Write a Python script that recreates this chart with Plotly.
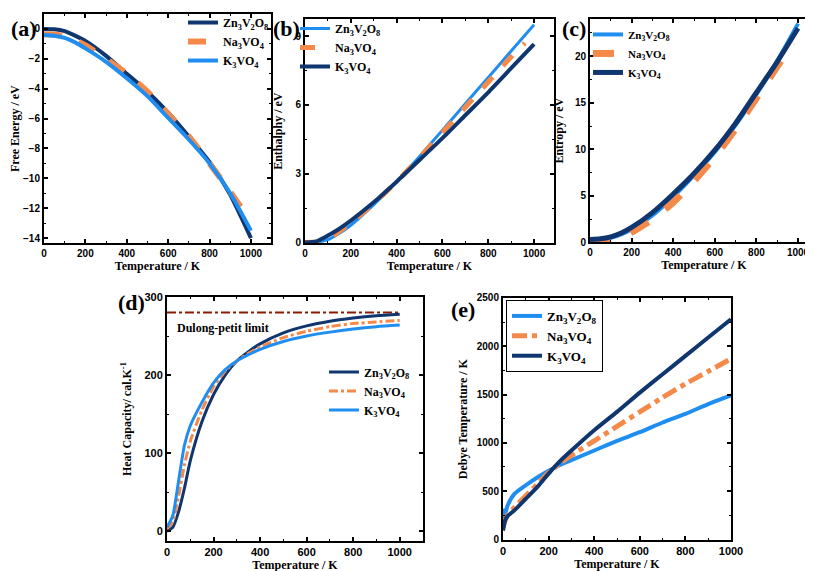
import plotly.graph_objects as go

# ---------------- data ----------------
T_a = [0, 50, 100, 150, 200, 300, 400, 500, 600, 700, 800, 900, 1000]
fe_zn = [0, -0.02, -0.15, -0.45, -0.8, -1.8, -3.0, -4.2, -5.6, -7.2, -8.9, -11.1, -14.0]
fe_k = [-0.4, -0.45, -0.6, -0.9, -1.3, -2.2, -3.3, -4.5, -5.95, -7.4, -9.0, -11.0, -13.5]
T_a_na = [0, 50, 100, 150, 200, 300, 400, 500, 600, 700, 800, 900, 950]
fe_na = [-0.35, -0.38, -0.5, -0.75, -1.1, -2.0, -3.0, -4.2, -5.7, -7.2, -9.0, -10.9, -11.9]

T_b = [0, 50, 100, 150, 200, 300, 400, 500, 600, 700, 800, 900, 1000]
h_zn = [0, 0.01, 0.12, 0.4, 0.75, 1.65, 2.65, 3.75, 4.9, 6.05, 7.2, 8.35, 9.5]
h_k = [0, 0.05, 0.3, 0.6, 0.95, 1.75, 2.65, 3.6, 4.55, 5.55, 6.55, 7.6, 8.65]
T_b_na = [0, 50, 100, 150, 200, 300, 400, 500, 600, 700, 800, 900, 960]
h_na = [0, 0.02, 0.15, 0.48, 0.85, 1.7, 2.65, 3.7, 4.8, 5.9, 7.0, 8.1, 8.7]

T_c = [0, 50, 100, 150, 200, 300, 400, 500, 600, 700, 800, 900, 1000]
s_zn = [0.3, 0.35, 0.5, 0.85, 1.4, 2.9, 4.9, 7.2, 9.7, 12.6, 15.9, 19.5, 23.5]
s_k = [0.3, 0.38, 0.6, 1.0, 1.6, 3.2, 5.2, 7.4, 9.9, 12.8, 16.1, 19.4, 23.0]
T_c_na = [0, 50, 100, 150, 200, 300, 400, 500, 600, 700, 800, 900, 975]
s_na = [0.1, 0.12, 0.2, 0.55, 1.1, 2.5, 4.3, 6.6, 9.2, 12.2, 15.5, 18.9, 21.4]

T_d = [0, 25, 50, 75, 100, 150, 200, 250, 300, 350, 400, 500, 600, 700, 800, 900, 1000]
cv_zn = [0, 5, 25, 55, 90, 140, 175, 200, 218, 230, 240, 254, 263, 269, 273, 276, 278]
cv_na = [3, 12, 45, 85, 115, 155, 185, 205, 218, 228, 236, 248, 256, 262, 266, 268, 270]
cv_k = [5, 20, 65, 110, 135, 165, 190, 207, 218, 226, 233, 243, 250, 255, 259, 262, 264]
dulong_T = [0, 1000]
dulong_v = [280, 280]

T_e = [0, 5, 10, 20, 50, 100, 150, 200, 250, 300, 400, 500, 600, 700, 800, 900, 1000]
th_zn = [100, 300, 270, 350, 470, 560, 640, 710, 770, 820, 920, 1020, 1110, 1210, 1300, 1400, 1490]
th_na = [120, 170, 200, 250, 330, 450, 570, 690, 790, 870, 1020, 1170, 1320, 1470, 1610, 1740, 1870]
th_k = [90, 150, 200, 240, 300, 420, 540, 680, 810, 920, 1130, 1320, 1520, 1710, 1900, 2090, 2280]

names = ["Zn<sub>3</sub>V<sub>2</sub>O<sub>8</sub>", "Na<sub>3</sub>VO<sub>4</sub>", "K<sub>3</sub>VO<sub>4</sub>"]

NAVY = "#10366f"
BLUE = "#1f8ef0"
ORANGE = "#f5894a"
DRED = "#8b1a00"

W, H = 813, 571
def px(x0, x1):
    return [x0 / W, x1 / W]
def py(y_top, y_bot):
    return [1 - y_bot / H, 1 - y_top / H]

fig = go.Figure()

def tr(x, y, name, color, width, dash, ax, leg, show=True):
    fig.add_trace(go.Scatter(x=x, y=y, name=name, mode="lines",
                             line=dict(color=color, width=width, dash=dash, shape="spline", smoothing=0.6),
                             xaxis="x" + ax, yaxis="y" + ax, legend=leg, showlegend=show))

# (a)
tr(T_a, fe_zn, names[0], NAVY, 4, "solid", "", "legend")
tr(T_a_na, fe_na, names[1], ORANGE, 6, "dash", "", "legend")
tr(T_a, fe_k, names[2], BLUE, 4, "solid", "", "legend")
# (b)
tr(T_b, h_zn, names[0], BLUE, 3, "solid", "2", "legend2")
tr(T_b_na, h_na, names[1], ORANGE, 5, "dash", "2", "legend2")
tr(T_b, h_k, names[2], NAVY, 4, "solid", "2", "legend2")
# (c)
tr(T_c, s_zn, names[0], BLUE, 4, "solid", "3", "legend3")
tr(T_c_na, s_na, names[1], ORANGE, 7, "dash", "3", "legend3")
tr(T_c, s_k, names[2], NAVY, 5, "solid", "3", "legend3")
# (d)
fig.add_trace(go.Scatter(x=dulong_T, y=dulong_v, mode="lines", showlegend=False,
                         line=dict(color=DRED, width=2, dash="dashdot"), xaxis="x4", yaxis="y4"))
tr(T_d, cv_zn, names[0], NAVY, 3, "solid", "4", "legend4")
tr(T_d, cv_na, names[1], ORANGE, 3, "dashdot", "4", "legend4")
tr(T_d, cv_k, names[2], BLUE, 3, "solid", "4", "legend4")
# (e)
tr(T_e, th_zn, names[0], BLUE, 4, "solid", "5", "legend5")
tr(T_e, th_na, names[1], ORANGE, 5, "dashdot", "5", "legend5")
tr(T_e, th_k, names[2], NAVY, 4, "solid", "5", "legend5")

titlefont = dict(family="Liberation Serif", size=12, color="black", weight="bold")

def tf(size):
    return dict(family="Liberation Sans", size=size, color="black", weight="bold")

def xax(dom, anchor, rng, fs=10):
    return dict(domain=dom, anchor=anchor, range=rng, dtick=200, tick0=0, automargin=False,
                showline=True, linecolor="black", linewidth=2, mirror="ticks",
                ticks="inside", ticklen=4, tickwidth=2, tickcolor="black",
                minor=dict(ticks="inside", ticklen=2, tickwidth=1, dtick=100, tickcolor="black"),
                showgrid=False, zeroline=False, tickfont=tf(fs),
                title=dict(text="Temperature / K", font=titlefont, standoff=2))

def yax(dom, anchor, rng, dtick, title, fs=10, standoff=8):
    return dict(domain=dom, anchor=anchor, range=rng, dtick=dtick, automargin=False,
                showline=True, linecolor="black", linewidth=2, mirror="ticks",
                ticks="inside", ticklen=4, tickwidth=2, tickcolor="black",
                minor=dict(ticks="inside", ticklen=2, tickwidth=1, dtick=dtick / 2, tickcolor="black"),
                showgrid=False, zeroline=False, tickfont=tf(fs),
                title=dict(text=title, font=titlefont, standoff=standoff))

def leg(x, y, size=12, border=False):
    d = dict(x=x / W, y=1 - y / H, xanchor="left", yanchor="top", bgcolor="rgba(0,0,0,0)",
             font=dict(family="Liberation Serif", size=size, color="black", weight="bold"),
             itemwidth=30, tracegroupgap=0)
    if border:
        d.update(bordercolor="black", borderwidth=1, bgcolor="white")
    return d

fig.update_layout(
    width=W, height=H, margin=dict(l=0, r=0, t=0, b=0),
    paper_bgcolor="white", plot_bgcolor="white",
    xaxis=xax(px(36, 263), "y", [0, 1097]),
    yaxis=yax(py(2, 233), "x", [-14.35, 1.0], 2, "Free Energy / eV", standoff=6),
    xaxis2=xax(px(297, 546), "y2", [0, 1087]),
    yaxis2=yax(py(7, 233), "x2", [-0.04, 9.75], 3, "Enthalphy / eV", standoff=10),
    xaxis3=xax(px(582, 810), "y3", [0, 1096]),
    yaxis3=yax(py(7, 232), "x3", [0, 24], 5, "Entropy / eV", standoff=9),
    xaxis4=xax(px(159, 415), "y4", [0, 1100], fs=11),
    yaxis4=yax(py(287, 533), "x4", [-13, 300], 100, "Heat Capacity/ cal.K<sup>-1</sup>", fs=11, standoff=10),
    xaxis5=xax(px(495, 723), "y5", [0, 1000], fs=11),
    yaxis5=yax(py(288, 532), "x5", [-10, 2500], 500, "Debye Temperature / K", standoff=7),
    legend=leg(175, -4),
    legend2=leg(287, 2),
    legend3=leg(580, 8, size=11),
    legend4=leg(316, 348),
    legend5=leg(498, 290, size=13, border=True),
    showlegend=True,
)

panel_font = dict(family="Liberation Serif", size=22, color="black", weight="bold")
for txt, x, y in [("(a)", 16, 17), ("(b)", 278, 17), ("(c)", 566, 17), ("(d)", 124, 293), ("(e)", 455, 300)]:
    fig.add_annotation(text=txt, x=x / W, y=1 - y / H, xref="paper", yref="paper",
                       showarrow=False, font=panel_font, xanchor="center", yanchor="middle")

fig.add_annotation(text="Dulong-petit limit", x=167 / W, y=1 - 318 / H, xref="paper", yref="paper",
                   showarrow=False, xanchor="left", yanchor="middle",
                   font=dict(family="Liberation Serif", size=12, color="black", weight="bold"))

fig.write_html("out.html")
